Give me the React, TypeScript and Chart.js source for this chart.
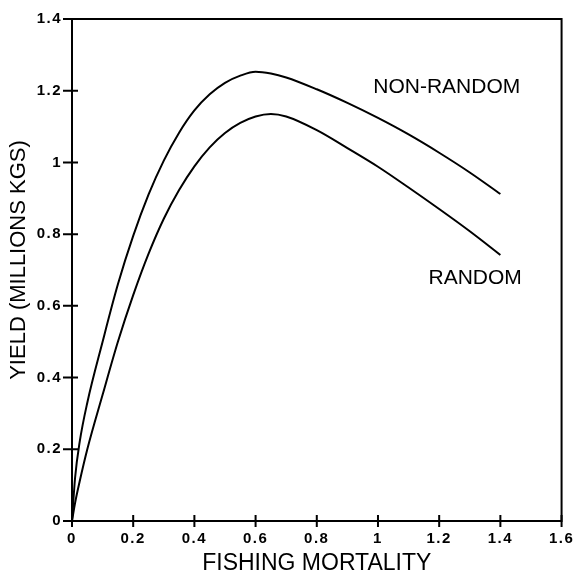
import React, { useEffect, useRef } from "react";
import { Chart, registerables } from "chart.js";

Chart.register(...registerables);

const fishingMortality = [0, 0.01, 0.025, 0.05, 0.1, 0.15, 0.2, 0.25, 0.3, 0.35, 0.4, 0.45, 0.5, 0.55, 0.6, 0.65, 0.7, 0.8, 0.9, 1.0, 1.1, 1.2, 1.3, 1.4];
const nonRandomYield = [0, 0.12, 0.22, 0.33, 0.5, 0.66, 0.795, 0.91, 1.005, 1.083, 1.145, 1.19, 1.222, 1.242, 1.253, 1.248, 1.237, 1.204, 1.166, 1.124, 1.078, 1.027, 0.972, 0.912];
const randomYield = [0, 0.05, 0.11, 0.2, 0.352, 0.5, 0.63, 0.745, 0.843, 0.923, 0.989, 1.042, 1.082, 1.11, 1.128, 1.135, 1.128, 1.09, 1.04, 0.988, 0.93, 0.87, 0.808, 0.742];
const xTickValues = [0, 0.2, 0.4, 0.6, 0.8, 1, 1.2, 1.4, 1.6];
const yTickValues = [0, 0.2, 0.4, 0.6, 0.8, 1, 1.2, 1.4];
const seriesLabels = ["NON-RANDOM", "RANDOM"];
const labelAnchors = [
  { x: 1.465, y: 1.195 },
  { x: 1.47, y: 0.66 },
];
const xTitle = "FISHING MORTALITY";
const yTitle = "YIELD (MILLIONS KGS)";

const FONT = "'Liberation Sans', Arial, sans-serif";

const framePlugin = {
  id: "frame",
  beforeDraw(chart: any) {
    (chart.ctx as any).letterSpacing = "1.5px";
  },
  beforeDatasetsDraw(chart: any) {
    (chart.ctx as any).letterSpacing = "0px";
  },
  afterDraw(chart: any) {
    const ctx = chart.ctx;
    (ctx as any).letterSpacing = "0px";
    const { left, right, top, bottom } = chart.chartArea;
    const xs = chart.scales.x;
    const ys = chart.scales.y;
    ctx.save();
    ctx.strokeStyle = "#000";
    ctx.lineWidth = 2;
    ctx.beginPath();
    ctx.rect(left, top, right - left, bottom - top);
    ctx.stroke();
    ctx.beginPath();
    for (const v of xTickValues) {
      const px = xs.getPixelForValue(v);
      ctx.moveTo(px, bottom - 6);
      ctx.lineTo(px, bottom + 6);
    }
    for (const v of yTickValues) {
      const py = ys.getPixelForValue(v);
      ctx.moveTo(left - 9, py);
      ctx.lineTo(left + 6, py);
    }
    ctx.stroke();

    ctx.fillStyle = "#000";
    ctx.font = `21px ${FONT}`;
    ctx.textAlign = "right";
    ctx.textBaseline = "alphabetic";
    seriesLabels.forEach((lab, i) => {
      const a = labelAnchors[i];
      ctx.fillText(lab, xs.getPixelForValue(a.x), ys.getPixelForValue(a.y));
    });

    ctx.font = `23px ${FONT}`;
    ctx.textAlign = "center";
    ctx.fillText(xTitle, (left + right) / 2, bottom + 49);

    ctx.font = `22px ${FONT}`;
    ctx.translate(left - 47, (top + bottom) / 2 - 10);
    ctx.rotate(-Math.PI / 2);
    ctx.textAlign = "center";
    ctx.textBaseline = "alphabetic";
    ctx.fillText(yTitle, 0, 0);
    ctx.restore();
  },
};

export default function App() {
  const ref = useRef<HTMLCanvasElement>(null);
  useEffect(() => {
    document.body.style.margin = "0";
    const fmt = (v: any) => String(Number(Number(v).toFixed(1)));
    const tickFont = { family: FONT, size: 15, weight: "bold" };
    const chart = new Chart(ref.current!, {
      type: "line",
      data: {
        datasets: [
          {
            label: seriesLabels[0],
            data: fishingMortality.map((x, i) => ({ x, y: nonRandomYield[i] })),
            borderColor: "#000",
            borderWidth: 2,
            pointRadius: 0,
            cubicInterpolationMode: "monotone",
            fill: false,
          },
          {
            label: seriesLabels[1],
            data: fishingMortality.map((x, i) => ({ x, y: randomYield[i] })),
            borderColor: "#000",
            borderWidth: 2,
            pointRadius: 0,
            cubicInterpolationMode: "monotone",
            fill: false,
          },
        ],
      },
      options: {
        responsive: false,
        animation: false,
        layout: { padding: { left: 0, top: 13, right: 14, bottom: 0 } },
        plugins: { legend: { display: false }, tooltip: { enabled: false }, title: { display: false } },
        scales: {
          x: {
            type: "linear",
            min: 0,
            max: 1.6,
            grid: { display: false, drawTicks: false, tickLength: 0 },
            border: { display: false },
            ticks: { color: "#000", font: tickFont, padding: 9, maxRotation: 0, autoSkip: false, callback: fmt },
            afterBuildTicks: (s: any) => { s.ticks = xTickValues.map((value) => ({ value })); },
            afterFit: (s: any) => { s.height = 54; },
          },
          y: {
            type: "linear",
            min: 0,
            max: 1.4,
            grid: { display: false, drawTicks: false, tickLength: 0 },
            border: { display: false },
            ticks: { color: "#000", font: tickFont, padding: 10, autoSkip: false, callback: fmt },
            afterBuildTicks: (s: any) => { s.ticks = yTickValues.map((value) => ({ value })); },
            afterFit: (s: any) => { s.width = 72; },
          },
        },
      },
      plugins: [framePlugin],
    } as any);
    return () => chart.destroy();
  }, []);
  return (
    <div style={{ position: "fixed", left: 0, top: 0, width: 581, height: 575, background: "#fff" }}>
      <canvas ref={ref} width={581} height={575} />
    </div>
  );
}
